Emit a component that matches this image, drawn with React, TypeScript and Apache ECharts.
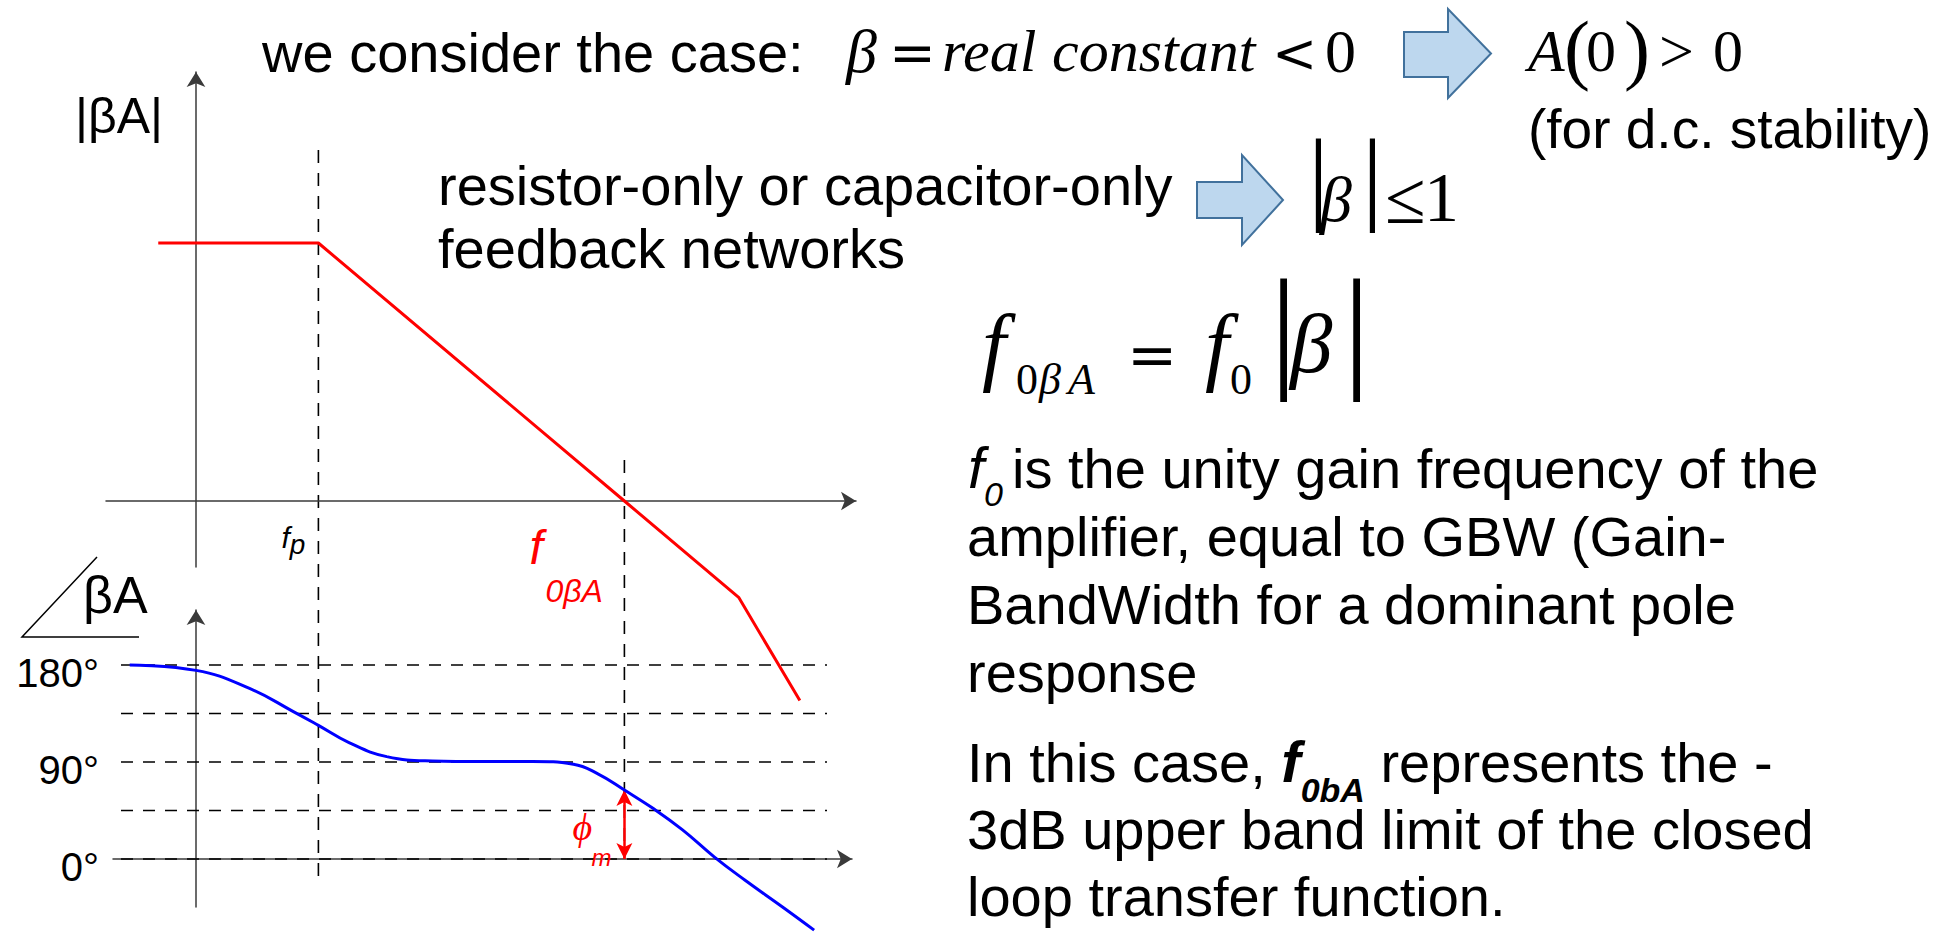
import React, { useEffect, useRef } from 'react';
import * as echarts from 'echarts';

// ---------- loop-gain sketch (frequency in decades, vertical axes at f = 0) ----------
const MAG_FREQ = [-0.37, 1.2, 4.2, 5.32, 5.92];
const MAG_DB = [60, 60, 0, -22.4, -46.4];

const PHASE_FREQ = [-0.65, 0, 0.53, 0.95, 1.2, 1.5, 1.87, 2.32, 2.8, 3.3, 3.7, 3.94, 4.2, 4.48, 4.77, 5.08, 5.38, 5.75, 6.06];
const PHASE_DEG = [180, 175, 158, 137, 124, 108, 95, 91, 90.5, 90.5, 88, 79, 64, 47, 27, 2, -19.5, -44.5, -66];

const F_POLE = 1.2; // fp
const F_CROSS = 4.2; // f0βA
const PHASE_GUIDES = [0, 45, 90, 135, 180];
const PHASE_TICKS = [0, 90, 180];

// ---------- slide text ----------
const HEADLINE = 'we consider the case:';
const STABILITY_NOTE = '(for d.c. stability)';
const NETWORK_LINES = ['resistor-only or capacitor-only', 'feedback networks'];
const F0_REST = 'is the unity gain frequency of the';
const F0_LINES = ['amplifier, equal to GBW (Gain-', 'BandWidth for a dominant pole', 'response'];
const CASE_HEAD = 'In this case, ';
const CASE_TAIL = ' represents the -';
const CASE_LINES = ['3dB upper band limit of the closed', 'loop transfer function.'];

// ---------- layout ----------
const W = 1948;
const H = 932;
const AXIS_X = 196;
const PX_PER_DEC = 102;
const MAG_ZERO_Y = 501;
const PX_PER_DB = 4.3;
const PHASE_ZERO_Y = 859;
const PX_PER_DEG = 194 / 180;

const fx = (px: number) => (px - AXIS_X) / PX_PER_DEC;
const fdb = (py: number) => (MAG_ZERO_Y - py) / PX_PER_DB;
const fdeg = (py: number) => (PHASE_ZERO_Y - py) / PX_PER_DEG;

const SANS = "'Liberation Sans', Arial, sans-serif";
const SERIF = "'Liberation Serif', 'Times New Roman', serif";
const MATH = "'DejaVu Serif', serif";
const RED = '#ff0000';
const BLUE = '#0000ff';
const AXIS_COLOR = '#3a3a3a';

type Seg = {
  t: string;
  size: number;
  fam?: string;
  it?: boolean;
  bold?: boolean;
  x?: number;
  dy?: number;
  gap?: number;
  color?: string;
  align?: string;
};

const K = 0.345; // central baseline offset (em)
let measureCtx: CanvasRenderingContext2D | null = null;
function measure(text: string, font: string) {
  if (!measureCtx) measureCtx = document.createElement('canvas').getContext('2d');
  if (!measureCtx) return text.length * 20;
  measureCtx.font = font;
  return measureCtx.measureText(text).width;
}
const fontOf = (s: Seg) => `${s.it ? 'italic ' : ''}${s.bold ? 'bold ' : ''}${s.size}px ${s.fam ?? SANS}`;

function run(x0: number, base: number, segs: Seg[], color = '#000') {
  let cx = x0;
  const out: any[] = [];
  for (const s of segs) {
    const x = s.x ?? cx;
    const font = fontOf(s);
    out.push({
      type: 'text',
      x,
      y: base + (s.dy ?? 0) - K * s.size,
      silent: true,
      z: 10,
      style: { text: s.t, font, fill: s.color ?? color, align: s.align ?? 'left', verticalAlign: 'middle' },
    });
    cx = x + measure(s.t, font) + (s.gap ?? 0);
  }
  return out;
}

function blockArrow(left: number, top: number, w: number, h: number, bodyTop: number, bodyBottom: number, headX: number) {
  return {
    type: 'polygon',
    silent: true,
    z: 10,
    shape: {
      points: [
        [left, bodyTop],
        [headX, bodyTop],
        [headX, top],
        [left + w, top + h / 2],
        [headX, top + h],
        [headX, bodyBottom],
        [left, bodyBottom],
      ],
    },
    style: { fill: '#bdd7ee', stroke: '#41719c', lineWidth: 2 },
  };
}

const axisLine = {
  onZero: true,
  symbol: ['none', 'arrow'],
  symbolSize: [14, 15],
  lineStyle: { color: AXIS_COLOR, width: 1.5 },
};
const bare = {
  type: 'value',
  axisTick: { show: false },
  axisLabel: { show: false },
  splitLine: { show: false },
};

export default function App() {
  const ref = useRef<HTMLDivElement>(null);

  useEffect(() => {
    if (!ref.current) return;
    const chart = echarts.init(ref.current, undefined, { renderer: 'svg' });

    const phaseMargin = PHASE_DEG[PHASE_FREQ.indexOf(F_CROSS)];

    chart.setOption({
      animation: false,
      backgroundColor: '#ffffff',
      grid: [
        { left: 106, top: 72, width: 750, height: 495, containLabel: false, outerBoundsMode: 'none' },
        { left: 113, top: 610, width: 739, height: 297, containLabel: false, outerBoundsMode: 'none' },
      ],
      xAxis: [
        { ...bare, gridIndex: 0, min: fx(106), max: fx(856), axisLine },
        { ...bare, gridIndex: 1, min: fx(113), max: fx(852), axisLine },
      ],
      yAxis: [
        { ...bare, gridIndex: 0, min: fdb(567), max: fdb(72), axisLine },
        { ...bare, gridIndex: 1, min: fdeg(907), max: fdeg(610), axisLine },
      ],
      series: [
        ...PHASE_GUIDES.map((d) => ({
          type: 'line',
          xAxisIndex: 1,
          yAxisIndex: 1,
          data: [
            [fx(121), d],
            [fx(827), d],
          ],
          symbol: 'none',
          silent: true,
          z: 1,
          lineStyle: { color: '#000', width: 1.6, type: [12, 10] },
        })),
        {
          type: 'line',
          name: '|βA|',
          xAxisIndex: 0,
          yAxisIndex: 0,
          data: MAG_FREQ.map((f, i) => [f, MAG_DB[i]]),
          symbol: 'none',
          clip: false,
          z: 5,
          lineStyle: { color: RED, width: 3 },
        },
        {
          type: 'line',
          name: '∠βA',
          xAxisIndex: 1,
          yAxisIndex: 1,
          data: PHASE_FREQ.map((f, i) => [f, PHASE_DEG[i]]),
          symbol: 'none',
          smooth: 0.45,
          clip: false,
          z: 5,
          lineStyle: { color: BLUE, width: 3 },
          markLine: {
            silent: true,
            symbol: ['arrow', 'arrow'],
            symbolSize: [12, 16],
            label: { show: false },
            lineStyle: { color: RED, width: 2.5, type: 'solid' },
            data: [[{ coord: [F_CROSS, 0] }, { coord: [F_CROSS, phaseMargin] }]],
          },
        },
      ],
    });

    const px = (grid: number, x: number, y: number) => chart.convertToPixel({ gridIndex: grid }, [x, y]) as number[];

    // vertical guides at fp and f0βA run across both plots
    const fpX = px(0, F_POLE, 0)[0];
    const [fcX, fcBottom] = px(1, F_CROSS, 0);
    const phaseAxisX = px(1, 0, 0)[0];
    const dash = { stroke: '#000', lineWidth: 1.6, lineDash: [13, 10] };

    const graphics: any[] = [
      { type: 'line', silent: true, z: 0, shape: { x1: fpX, y1: 150, x2: fpX, y2: 880 }, style: dash },
      { type: 'line', silent: true, z: 0, shape: { x1: fcX, y1: 460, x2: fcX, y2: fcBottom }, style: dash },

      // phase tick labels
      ...PHASE_TICKS.flatMap((d) =>
        run(phaseAxisX - 97, px(1, 0, d)[1] + 22, [{ t: `${d}°`, size: 40, align: 'right' }]),
      ),

      // axis captions
      ...run(75, 133, [{ t: '|βA|', size: 50 }]),
      ...run(83, 613, [{ t: 'βA', size: 52 }]),
      {
        type: 'polyline',
        silent: true,
        z: 10,
        shape: { points: [[139, 637], [22, 637], [97, 557]] },
        style: { stroke: '#000', lineWidth: 1.5, fill: null },
      },
      ...run(fpX - 37, 548, [{ t: 'f', size: 30, it: true }, { t: 'p', size: 28, it: true, dy: 6 }]),
      ...run(fcX - 95, 564, [{ t: 'f', size: 48, it: true }], RED),
      ...run(fcX - 79, 602, [{ t: '0βA', size: 32, it: true }], RED),
      ...run(fcX - 52, 840, [{ t: 'ϕ', size: 38, it: true, fam: SERIF }], RED),
      ...run(fcX - 33, 866, [{ t: 'm', size: 24, it: true }], RED),

      // headline with the β condition
      ...run(262, 72, [{ t: HEADLINE, size: 56 }]),
      ...run(0, 72, [
        { t: 'β', size: 62, fam: SERIF, it: true, x: 846 },
        { t: '=', size: 56, fam: MATH, x: 889 },
        { t: 'real', size: 60, fam: SERIF, it: true, x: 942 },
        { t: 'constant', size: 60, fam: SERIF, it: true, x: 1052 },
        { t: '<', size: 54, fam: MATH, x: 1272 },
        { t: '0', size: 62, fam: SERIF, x: 1325 },
      ]),
      blockArrow(1404, 9, 87, 89, 32, 77, 1448),
      ...run(0, 72, [
        { t: 'A', size: 60, fam: SERIF, it: true, x: 1528 },
        { t: '(', size: 78, fam: SERIF, x: 1564, dy: 3 },
        { t: '0', size: 60, fam: SERIF, x: 1586 },
        { t: ')', size: 78, fam: SERIF, x: 1624, dy: 3 },
        { t: '>', size: 62, fam: SERIF, x: 1659 },
        { t: '0', size: 60, fam: SERIF, x: 1713 },
      ]),
      ...run(1528, 148, [{ t: STABILITY_NOTE, size: 55 }]),

      // feedback network note
      ...run(438, 205, [{ t: NETWORK_LINES[0], size: 56 }]),
      ...run(438, 268, [{ t: NETWORK_LINES[1], size: 56 }]),
      blockArrow(1197, 155, 86, 90, 182, 218, 1242),
      ...run(0, 222, [
        { t: '|', size: 104, fam: SERIF, x: 1308, dy: -11 },
        { t: 'β', size: 64, fam: SERIF, it: true, x: 1320 },
        { t: '|', size: 104, fam: SERIF, x: 1362, dy: -11 },
        { t: '≤', size: 74, fam: SERIF, x: 1385, dy: 2 },
        { t: '1', size: 70, fam: SERIF, x: 1424 },
      ]),

      // f0βA = f0|β|
      ...run(0, 375, [
        { t: 'f', size: 86, fam: SERIF, it: true, x: 982 },
        { t: '0', size: 44, fam: SERIF, x: 1016, dy: 20 },
        { t: 'β', size: 44, fam: SERIF, it: true, x: 1039, dy: 20 },
        { t: 'A', size: 44, fam: SERIF, it: true, x: 1068, dy: 20 },
        { t: '=', size: 60, fam: MATH, x: 1127 },
        { t: 'f', size: 86, fam: SERIF, it: true, x: 1205 },
        { t: '0', size: 44, fam: SERIF, x: 1230, dy: 20 },
        { t: '|', size: 136, fam: SERIF, x: 1270, dy: -1 },
        { t: 'β', size: 85, fam: SERIF, it: true, x: 1290, dy: -3 },
        { t: '|', size: 136, fam: SERIF, x: 1343, dy: -1 },
      ]),

      // explanation paragraph
      ...run(968, 488, [
        { t: 'f', size: 58, it: true },
        { t: '0', size: 34, it: true, dy: 18 },
        { t: F0_REST, size: 56, x: 1012 },
      ]),
      ...F0_LINES.flatMap((l, i) => run(967, 556 + i * 68, [{ t: l, size: 56 }])),
      ...run(967, 782, [
        { t: CASE_HEAD, size: 56 },
        { t: 'f', size: 58, it: true, bold: true },
        { t: '0bA', size: 34, it: true, bold: true, dy: 20 },
        { t: CASE_TAIL, size: 56 },
      ]),
      ...CASE_LINES.flatMap((l, i) => run(967, 849 + i * 67, [{ t: l, size: 56 }])),
    ];

    chart.setOption({ graphic: graphics });

    return () => chart.dispose();
  }, []);

  return <div ref={ref} style={{ position: 'fixed', left: 0, top: 0, width: W, height: H }} />;
}
